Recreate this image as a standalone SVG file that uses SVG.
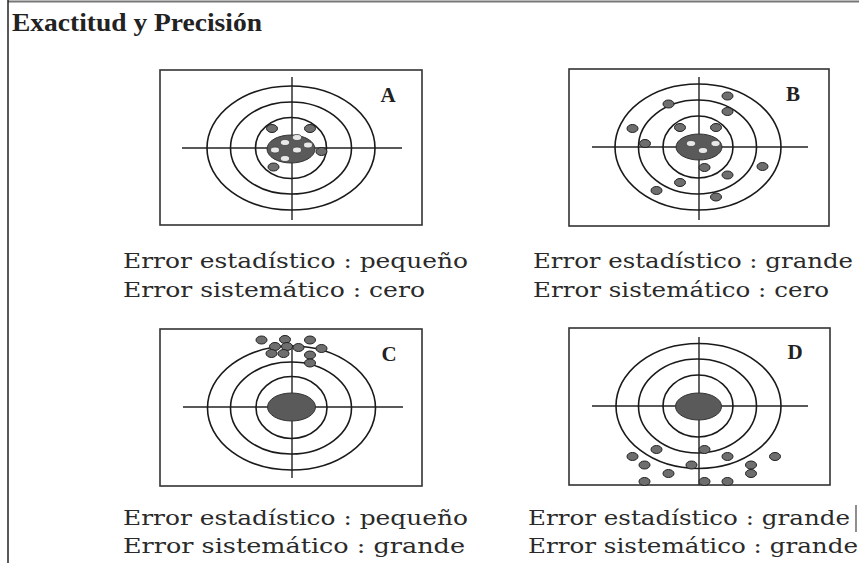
<svg xmlns="http://www.w3.org/2000/svg" width="859" height="563" viewBox="0 0 859 563">
<style>
.box{fill:#fff;stroke:#333;stroke-width:1.6}
.ln{stroke:#222;stroke-width:1.4;fill:none}
.ring{fill:none;stroke:#1a1a1a;stroke-width:1.6}
.bull{fill:#5a5a5a;stroke:#333;stroke-width:1}
.dot{fill:#6e6e6e;stroke:#222;stroke-width:1}
.hole{fill:#e8e8e8;stroke:#444;stroke-width:0.8}
.lab{font-family:"Liberation Serif","Times New Roman",serif;font-weight:bold;font-size:21px;fill:#222}
.txt{font-family:"DejaVu Serif","Liberation Serif",serif;font-size:21px;fill:#2a2a2a}
.title{font-family:"Liberation Serif","Times New Roman",serif;font-weight:bold;font-size:26px;fill:#222}
</style>
<rect width="859" height="563" fill="#fff"/>
<line x1="8" y1="1.5" x2="859" y2="1.5" stroke="#777" stroke-width="2"/>
<line x1="8" y1="0" x2="8" y2="563" stroke="#222" stroke-width="1.5"/>
<line x1="856" y1="505" x2="856" y2="532" stroke="#444" stroke-width="1.2"/>
<text class="title" x="12" y="31" textLength="250" lengthAdjust="spacingAndGlyphs">Exactitud y Precisión</text>

<g id="panelA">
<rect class="box" x="160" y="70" width="262" height="155"/>
<line class="ln" x1="182" y1="148" x2="402" y2="148"/>
<line class="ln" x1="292" y1="77" x2="292" y2="220"/>
<ellipse class="ring" cx="291" cy="148" rx="84" ry="62"/>
<ellipse class="ring" cx="291" cy="148" rx="60.5" ry="46"/>
<ellipse class="ring" cx="291" cy="148" rx="35.5" ry="30.5"/>
<ellipse class="bull" cx="291" cy="149" rx="24" ry="14"/>
<ellipse class="hole" cx="285" cy="142.5" rx="4.5" ry="3"/>
<ellipse class="hole" cx="297" cy="137.5" rx="4.5" ry="3"/>
<ellipse class="hole" cx="297" cy="150" rx="4.5" ry="3"/>
<ellipse class="hole" cx="275" cy="150" rx="4.5" ry="3"/>
<ellipse class="hole" cx="285" cy="158.5" rx="4.5" ry="3"/>
<ellipse class="hole" cx="308" cy="145" rx="4.5" ry="3"/>
<ellipse class="dot" cx="272" cy="128.5" rx="5.5" ry="4"/>
<ellipse class="dot" cx="310" cy="128.5" rx="5.5" ry="4"/>
<ellipse class="dot" cx="321.5" cy="151.5" rx="5.5" ry="4"/>
<ellipse class="dot" cx="273.5" cy="167" rx="5.5" ry="4"/>
<text class="lab" x="388" y="102" text-anchor="middle">A</text>
</g>

<g id="panelB">
<rect class="box" x="569" y="69" width="260" height="157"/>
<line class="ln" x1="592" y1="147" x2="808" y2="147"/>
<line class="ln" x1="699" y1="77" x2="699" y2="220"/>
<ellipse class="ring" cx="698" cy="147" rx="83" ry="63"/>
<ellipse class="ring" cx="697.5" cy="147" rx="59" ry="47"/>
<ellipse class="ring" cx="698" cy="147" rx="35" ry="31"/>
<ellipse class="bull" cx="699" cy="147" rx="23" ry="13"/>
<ellipse class="hole" cx="691" cy="143.5" rx="4.5" ry="3"/>
<ellipse class="hole" cx="715.5" cy="143.5" rx="4.5" ry="3"/>
<ellipse class="hole" cx="703" cy="150.5" rx="4.5" ry="3"/>
<ellipse class="dot" cx="727.5" cy="96" rx="5.5" ry="4"/>
<ellipse class="dot" cx="668.5" cy="104" rx="5.5" ry="4"/>
<ellipse class="dot" cx="727.5" cy="111.5" rx="5.5" ry="4"/>
<ellipse class="dot" cx="632.5" cy="128.5" rx="5.5" ry="4"/>
<ellipse class="dot" cx="680" cy="127.5" rx="5.5" ry="4"/>
<ellipse class="dot" cx="716" cy="127.5" rx="5.5" ry="4"/>
<ellipse class="dot" cx="645" cy="143.5" rx="5.5" ry="4"/>
<ellipse class="dot" cx="704.5" cy="167.5" rx="5.5" ry="4"/>
<ellipse class="dot" cx="727.5" cy="175" rx="5.5" ry="4"/>
<ellipse class="dot" cx="762.5" cy="166.5" rx="5.5" ry="4"/>
<ellipse class="dot" cx="680" cy="182.5" rx="5.5" ry="4"/>
<ellipse class="dot" cx="656.5" cy="190.5" rx="5.5" ry="4"/>
<ellipse class="dot" cx="716" cy="197" rx="5.5" ry="4"/>
<text class="lab" x="793" y="101" text-anchor="middle">B</text>
</g>

<g id="panelC">
<rect class="box" x="160" y="329" width="262" height="157"/>
<line class="ln" x1="183" y1="407" x2="403" y2="407"/>
<line class="ln" x1="292" y1="345" x2="292" y2="478"/>
<ellipse class="ring" cx="291.5" cy="408" rx="84" ry="62"/>
<ellipse class="ring" cx="291" cy="408" rx="60.5" ry="46"/>
<ellipse class="ring" cx="291.5" cy="407.5" rx="35.5" ry="31"/>
<ellipse class="bull" cx="291.5" cy="407" rx="24" ry="14"/>
<ellipse class="dot" cx="261.5" cy="340" rx="5.5" ry="4"/>
<ellipse class="dot" cx="285" cy="339.5" rx="5.5" ry="4"/>
<ellipse class="dot" cx="310" cy="340" rx="5.5" ry="4"/>
<ellipse class="dot" cx="275" cy="346.5" rx="5.5" ry="4"/>
<ellipse class="dot" cx="287" cy="346.5" rx="5.5" ry="4"/>
<ellipse class="dot" cx="298.5" cy="347.5" rx="5.5" ry="4"/>
<ellipse class="dot" cx="321.5" cy="348.5" rx="5.5" ry="4"/>
<ellipse class="dot" cx="271.5" cy="353.5" rx="5.5" ry="4"/>
<ellipse class="dot" cx="283.5" cy="353.5" rx="5.5" ry="4"/>
<ellipse class="dot" cx="310" cy="355" rx="5.5" ry="4"/>
<ellipse class="dot" cx="310" cy="363" rx="5.5" ry="4"/>
<text class="lab" x="389" y="361" text-anchor="middle" font-weight="normal" font-size="22">C</text>
</g>

<g id="panelD">
<rect class="box" x="569" y="328" width="261" height="157"/>
<line class="ln" x1="592" y1="406" x2="808" y2="406"/>
<line class="ln" x1="699" y1="337" x2="699" y2="485"/>
<ellipse class="ring" cx="698.5" cy="406" rx="82.5" ry="62.5"/>
<ellipse class="ring" cx="697.5" cy="406" rx="59" ry="47"/>
<ellipse class="ring" cx="698" cy="406" rx="35" ry="31"/>
<ellipse class="bull" cx="698.5" cy="406.5" rx="23" ry="13.5"/>
<ellipse class="dot" cx="656.5" cy="449.5" rx="5.5" ry="4"/>
<ellipse class="dot" cx="704.5" cy="449.5" rx="5.5" ry="4"/>
<ellipse class="dot" cx="632.5" cy="456.5" rx="5.5" ry="4"/>
<ellipse class="dot" cx="727.5" cy="456.5" rx="5.5" ry="4"/>
<ellipse class="dot" cx="775" cy="456.5" rx="5.5" ry="4"/>
<ellipse class="dot" cx="644.5" cy="465" rx="5.5" ry="4"/>
<ellipse class="dot" cx="691.5" cy="465" rx="5.5" ry="4"/>
<ellipse class="dot" cx="751" cy="465" rx="5.5" ry="4"/>
<ellipse class="dot" cx="668.5" cy="473.5" rx="5.5" ry="4"/>
<ellipse class="dot" cx="751" cy="473.5" rx="5.5" ry="4"/>
<ellipse class="dot" cx="644.5" cy="481.5" rx="5.5" ry="4"/>
<ellipse class="dot" cx="704.5" cy="481.5" rx="5.5" ry="4"/>
<ellipse class="dot" cx="727.5" cy="481.5" rx="5.5" ry="4"/>
<text class="lab" x="795" y="359" text-anchor="middle">D</text>
</g>

<g id="labels">
<text class="txt" x="123" y="268" textLength="345" lengthAdjust="spacingAndGlyphs">Error estadístico : pequeño</text>
<text class="txt" x="123" y="297" textLength="302" lengthAdjust="spacingAndGlyphs">Error sistemático : cero</text>
<text class="txt" x="533" y="268" textLength="320" lengthAdjust="spacingAndGlyphs">Error estadístico : grande</text>
<text class="txt" x="533" y="297" textLength="296" lengthAdjust="spacingAndGlyphs">Error sistemático : cero</text>
<text class="txt" x="123" y="525" textLength="345" lengthAdjust="spacingAndGlyphs">Error estadístico : pequeño</text>
<text class="txt" x="123" y="553" textLength="342" lengthAdjust="spacingAndGlyphs">Error sistemático : grande</text>
<text class="txt" x="528" y="525" textLength="322" lengthAdjust="spacingAndGlyphs">Error estadístico : grande</text>
<text class="txt" x="528" y="553" textLength="330" lengthAdjust="spacingAndGlyphs">Error sistemático : grande</text>
</g>
</svg>
